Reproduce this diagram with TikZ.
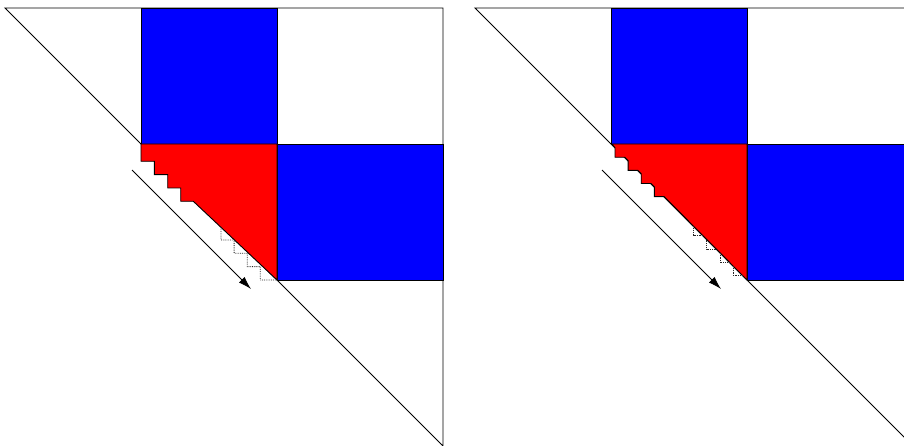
\documentclass[tikz,border=0pt]{standalone}
\usetikzlibrary{arrows.meta}
\tikzset{
  frame/.style={line width=0.9pt},
  blockfill/.style={draw=black, fill=blue, line width=0.9pt},
  redfill/.style={draw=black, fill=red, line width=0.9pt},
  stairdot/.style={densely dotted, line width=0.8pt, black!85},
  sweep/.style={line width=0.8pt, -{Latex[length=13pt,width=8pt]}}
}
\begin{document}
\begin{tikzpicture}[x=1pt,y=-1pt]
  \useasboundingbox (0,0) rectangle (904,446);
  \clip (0,0) rectangle (904,446);

  % left panel: square steps below the diagonal
  \draw[frame] (5,8) -- (443,8) -- (443,446) -- cycle;
  \draw[blockfill] (141,8) rectangle (277,144);
  \draw[blockfill] (277,144) rectangle (443,280);
  \draw[redfill] (141,144) -- (277,144) -- (277,280) -- (193.3,201.3)
    -- (180.7,201.3) -- (180.7,188) -- (167.7,188) -- (167.7,174.7)
    -- (154.3,174.7) -- (154.3,161.3) -- (141,161.3) -- cycle;
  \draw[stairdot] (221,227.5) -- (221,240) -- ++(13.1,0) -- ++(0,13.3)
    -- ++(13.1,0) -- ++(0,13.3) -- ++(13.1,0) -- ++(0,13.3) -- (277,280);
  \coordinate (sweepA) at (132,170);
  \coordinate (sweepB) at (251,289);
  \draw[sweep] (sweepA) -- (sweepB);

  % right panel: small teeth along the diagonal
  \begin{scope}[shift={(470,0)}]
    \draw[frame] (5,8) -- (443,8) -- (443,446) -- cycle;
    \draw[blockfill] (141,8) rectangle (277,144);
    \draw[blockfill] (277,144) rectangle (443,280);
    \draw[redfill] (141.7,144)
      \foreach \x in {145,158.1,171.2,184.3} {
        -- (\x,\x+2.5) -- (\x,\x+12.3) -- (\x+9.8,\x+12.3)
      } -- (277,280) -- (277,144) -- cycle;
    \foreach \x in {223.5,236.7,249.9,263.1}
      \draw[stairdot] (\x,\x+3) -- (\x,\x+12.3) -- (\x+9.5,\x+12.3);
    \coordinate (sweepC) at (132,170);
    \coordinate (sweepD) at (251,289);
    \draw[sweep] (sweepC) -- (sweepD);
  \end{scope}
\end{tikzpicture}
\end{document}
